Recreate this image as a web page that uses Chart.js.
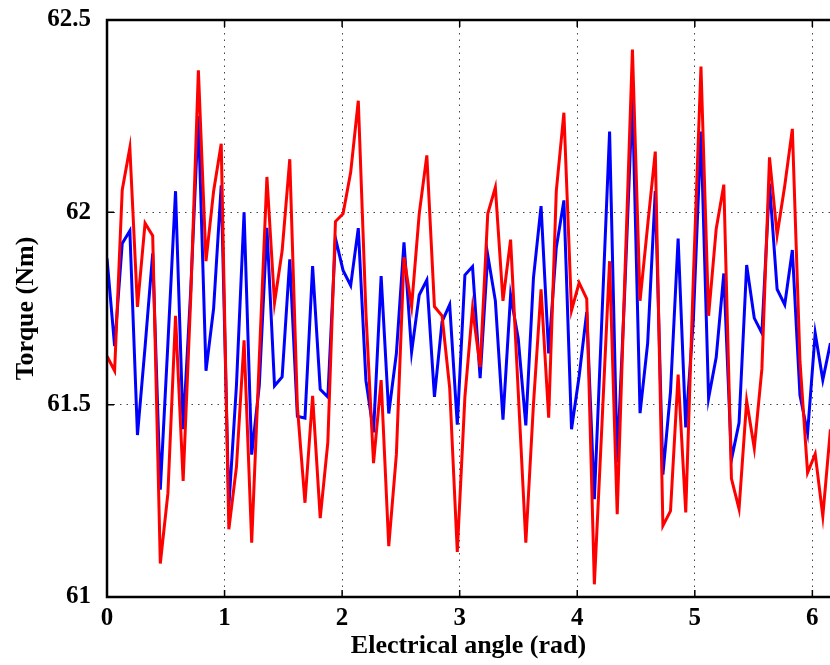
<!DOCTYPE html>
<html>
<head>
<meta charset="utf-8">
<script src="https://cdn.jsdelivr.net/npm/chart.js@4"></script>
<style>
  html, body { margin: 0; padding: 0; background: #fff; }
</style>
</head>
<body>
<canvas id="torqueChart" width="830" height="665"></canvas>
<script>
// Sampling: 98 points over one electrical period (0..2π), only ~6.15 rad visible
const angleStep = 2 * Math.PI / 97;

// Torque (Nm)
const redTorque = [
  61.626, 61.588, 62.058, 62.168, 61.754, 61.972, 61.939, 61.087, 61.27, 61.731,
  61.302, 61.78, 62.369, 61.873, 62.055, 62.178, 61.176, 61.338, 61.667, 61.141,
  61.62, 62.092, 61.765, 61.9, 62.138, 61.495, 61.245, 61.523, 61.205, 61.402,
  61.976, 61.996, 62.104, 62.29, 61.74, 61.348, 61.564, 61.132, 61.37, 61.883,
  61.755, 61.996, 62.148, 61.755, 61.731, 61.544, 61.117, 61.52, 61.75, 61.598,
  61.996, 62.065, 61.77, 61.929, 61.535, 61.141, 61.5, 61.8, 61.466, 62.055,
  62.259, 61.745, 61.817, 61.775, 61.033, 61.45, 61.873, 61.215, 61.83, 62.423,
  61.77, 61.966, 62.158, 61.185, 61.224, 61.578, 61.22, 61.83, 62.379, 61.731,
  61.957, 62.072, 61.308, 61.229, 61.51, 61.387, 61.593, 62.143, 61.941, 62.069,
  62.217, 61.613, 61.323, 61.372, 61.21, 61.436
];

const blueTorque = [
  61.88, 61.652, 61.919, 61.952, 61.421, 61.65, 61.893, 61.279, 61.66, 62.055,
  61.436, 61.8, 62.25, 61.588, 61.75, 62.07, 61.235, 61.55, 62.0, 61.37,
  61.55, 61.96, 61.549, 61.572, 61.878, 61.47, 61.465, 61.86, 61.54, 61.52,
  61.933, 61.849, 61.81, 61.959, 61.563, 61.428, 61.834, 61.477, 61.633, 61.922,
  61.637, 61.785, 61.824, 61.52, 61.716, 61.76, 61.448, 61.837, 61.859, 61.569,
  61.889, 61.77, 61.461, 61.785, 61.672, 61.446, 61.829, 62.016, 61.633, 61.908,
  62.031, 61.436, 61.574, 61.741, 61.254, 61.73, 62.21, 61.35, 61.8, 62.3,
  61.478, 61.66, 62.055, 61.318, 61.534, 61.932, 61.441, 61.72, 62.21, 61.517,
  61.623, 61.841, 61.357, 61.453, 61.863, 61.725, 61.686, 62.075, 61.8, 61.76,
  61.902, 61.524, 61.426, 61.686, 61.564, 61.66
];

const xTicks = [0, 1, 2, 3, 4, 5, 6];
const yTicks = [61, 61.5, 62, 62.5];

const toPoints = values => values.map((v, i) => ({ x: i * angleStep, y: v }));

// Box with inward ticks, MATLAB style (right side is cut off in the picture)
const framePlugin = {
    id: "frame",
    afterDraw(chart) {
        const { ctx, chartArea: a, scales: { x, y } } = chart;
        ctx.save();
        ctx.strokeStyle = "#000";
        ctx.lineWidth = 1.5;
        ctx.beginPath();
        xTicks.forEach(v => {
            const px = x.getPixelForValue(v);
            ctx.moveTo(px, a.bottom);
            ctx.lineTo(px, a.bottom - 7);
            ctx.moveTo(px, a.top);
            ctx.lineTo(px, a.top + 7);
        });
        yTicks.forEach(v => {
            const py = y.getPixelForValue(v);
            ctx.moveTo(a.left, py);
            ctx.lineTo(a.left + 7, py);
        });
        ctx.stroke();
        ctx.lineWidth = 2.5;
        ctx.beginPath();
        ctx.moveTo(a.right + 5, a.top);
        ctx.lineTo(a.left, a.top);
        ctx.lineTo(a.left, a.bottom);
        ctx.lineTo(a.right + 5, a.bottom);
        ctx.stroke();
        ctx.restore();
    }
};

const canvas = document.getElementById("torqueChart");

new Chart(canvas, {
    type: "line",
    data: {
        datasets: [
            {
                data: toPoints(redTorque),
                borderColor: "#ff0000",
                borderWidth: 3,
                pointRadius: 0,
                tension: 0,
                order: 1
            },
            {
                data: toPoints(blueTorque),
                borderColor: "#0000ff",
                borderWidth: 3,
                pointRadius: 0,
                tension: 0,
                order: 2
            }
        ]
    },
    options: {
        responsive: false,
        animation: false,
        layout: {
            padding: { top: 20, right: 0, bottom: 0, left: 0 }
        },
        plugins: {
            legend: { display: false },
            tooltip: { enabled: false }
        },
        scales: {
            x: {
                type: "linear",
                min: 0,
                max: 6.15,
                afterFit(scale) {
                    scale.height = 68;
                    scale.paddingLeft = 0;
                    scale.paddingRight = 0;
                },
                grid: {
                    color: "#444",
                    lineWidth: 1,
                    drawTicks: false
                },
                border: { display: false, dash: [1.5, 5] },
                ticks: {
                    stepSize: 1,
                    includeBounds: false,
                    padding: 7,
                    color: "#000",
                    font: { family: "Liberation Serif", weight: "bold", size: 25 }
                },
                title: {
                    display: true,
                    text: "Electrical angle (rad)",
                    color: "#000",
                    padding: { top: 0, bottom: 3 },
                    font: { family: "Liberation Serif", weight: "bold", size: 26 }
                }
            },
            y: {
                min: 61,
                max: 62.5,
                afterFit(scale) {
                    scale.width = 107;
                    scale.paddingTop = 0;
                    scale.paddingBottom = 0;
                },
                afterBuildTicks(scale) { scale.ticks = yTicks.map(v => ({ value: v })); },
                grid: {
                    color: "#444",
                    lineWidth: 1,
                    drawTicks: false
                },
                border: { display: false, dash: [1.5, 5] },
                ticks: {
                    padding: 16,
                    color: "#000",
                    font: { family: "Liberation Serif", weight: "bold", size: 25 },
                    callback: value => String(value)
                },
                title: {
                    display: true,
                    text: "Torque (Nm)",
                    color: "#000",
                    padding: { top: 11, bottom: 0 },
                    font: { family: "Liberation Serif", weight: "bold", size: 26 }
                }
            }
        }
    },
    plugins: [framePlugin]
});
</script>
</body>
</html>
